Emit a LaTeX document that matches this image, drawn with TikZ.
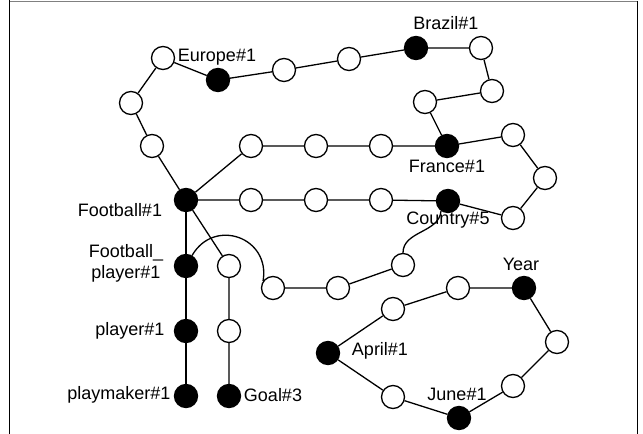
\documentclass[tikz,border=0pt]{standalone}
\usepackage{fontspec}
\setmainfont{Liberation Sans}

\begin{document}
\begin{tikzpicture}[x=1pt,y=-1pt,
    word/.style={circle,draw=black,fill=black,line width=1.3pt,minimum size=23pt,inner sep=0pt},
    hop/.style={circle,draw=black,fill=white,line width=1.3pt,minimum size=23pt,inner sep=0pt},
    lbl/.style={inner sep=0pt,align=center,font=\fontsize{18}{21}\selectfont},
    link/.style={black,line width=1.3pt}]
    \useasboundingbox (0,0) rectangle (643,434);
    % frame
    \draw [gray,line width=1pt] (9,1) -- (637,1);
    \draw [black,line width=1pt] (9,0) -- (9,434);
    \draw [black,line width=1pt] (637,1) -- (637,434);
    % word nodes
    \node [word] (fb) at (186,200) {};
    \node [word] (eu) at (218,80) {};
    \node [word] (br) at (416,48) {};
    \node [word] (fr) at (447,146) {};
    \node [word] (co) at (448,201) {};
    \node [word] (fp) at (186,266) {};
    \node [word] (pl) at (186,331) {};
    \node [word] (pm) at (186,396) {};
    \node [word] (go) at (229,396) {};
    \node [word] (ap) at (328,353) {};
    \node [word] (yr) at (524,288) {};
    \node [word] (jn) at (459,418) {};
    % labels
    \node [lbl] (fbl) at (120,210) {Football\#1};
    \node [lbl] (eul) at (217,57) {Europe\#1};
    \node [lbl] (brl) at (446,23) {Brazil\#1};
    \node [lbl] (frl) at (447,166) {France\#1};
    \node [lbl] (col) at (448,220) {Country\#5};
    \node [lbl] (fpl) at (126,263) {Football\_\\player\#1};
    \node [lbl] (pll) at (130,331) {player\#1};
    \node [lbl] (pml) at (119,395) {playmaker\#1};
    \node [lbl] (gol) at (273,395) {Goal\#3};
    \node [lbl] (apl) at (380,351) {April\#1};
    \node [lbl] (yrl) at (521,264) {Year};
    \node [lbl] (jnl) at (457,394) {June\#1};
    % hop nodes
    \node [hop] (e1) at (163,58) {};
    \node [hop] (e2) at (131,103) {};
    \node [hop] (e3) at (152,146) {};
    \node [hop] (e4) at (284,70) {};
    \node [hop] (e5) at (349,59) {};
    \node [hop] (b1) at (481,48) {};
    \node [hop] (b2) at (492,91) {};
    \node [hop] (b3) at (425,102) {};
    \node [hop] (f1) at (251,146) {};
    \node [hop] (f2) at (316,146) {};
    \node [hop] (f3) at (381,146) {};
    \node [hop] (f4) at (513,135) {};
    \node [hop] (f5) at (545,178) {};
    \node [hop] (f6) at (513,218) {};
    \node [hop] (c1) at (251,200) {};
    \node [hop] (c2) at (316,200) {};
    \node [hop] (c3) at (381,200) {};
    \node [hop] (g1) at (229,266) {};
    \node [hop] (g2) at (229,331) {};
    \node [hop] (k1) at (273,288) {};
    \node [hop] (k2) at (338,288) {};
    \node [hop] (k3) at (403,265) {};
    \node [hop] (y1) at (393,309) {};
    \node [hop] (y2) at (458,288) {};
    \node [hop] (y3) at (557,342) {};
    \node [hop] (y4) at (513,386) {};
    \node [hop] (y5) at (393,397) {};
    % Europe / Brazil / France loop
    \draw [link] (fb) -- (e3) -- (e2) -- (e1) -- (eu) -- (e4) -- (e5) -- (br) -- (b1) -- (b2) -- (b3) -- (fr);
    \draw [link] (fr) -- (f4) -- (f5) -- (f6) -- (co);
    \draw [link] (fb) -- (f1) -- (f2) -- (f3) -- (fr);
    \draw [link] (fb) -- (c1) -- (c2) -- (c3) -- (co);
    % player and goal chains
    \draw [link] (fb) -- (fp) -- (pl) -- (pm);
    \draw [link] (fb) -- (g1) -- (g2) -- (go);
    \draw [link] (fp.60) to[out=60,in=80,looseness=1.5] (k1.145);
    \draw [link] (k1) -- (k2) -- (k3);
    \draw [link] (co.-125) to[out=-95,in=90] (k3.north);
    % dates
    \draw [link] (ap) -- (y1) -- (y2) -- (yr) -- (y3) -- (y4) -- (jn) -- (y5) -- (ap);
\end{tikzpicture}
\end{document}
